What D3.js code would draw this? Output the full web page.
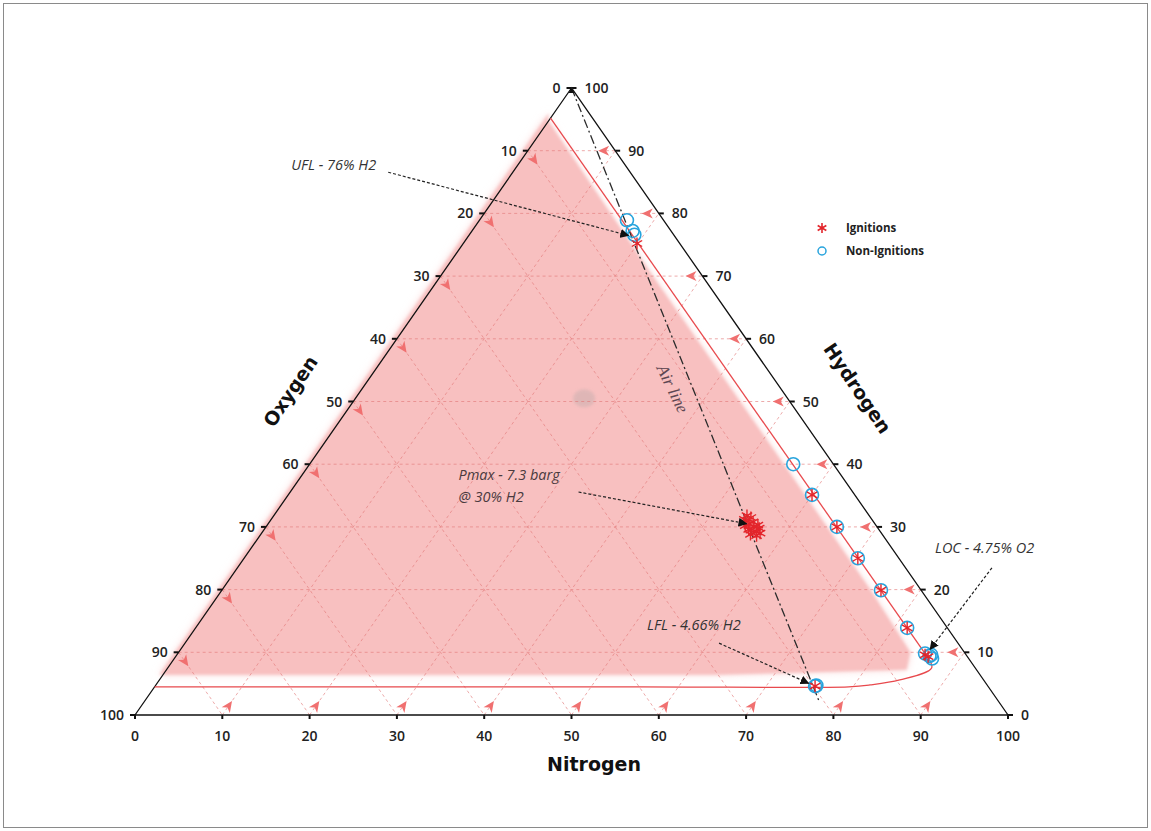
<!DOCTYPE html>
<html lang="en">
<head>
<meta charset="UTF-8">
<title>H2 / O2 / N2 flammability diagram</title>
<style>
  body { margin: 0; background: #fff; }
  .tick-label { font-family: "Open Sans", sans-serif; font-size: 14px; font-weight: 600; fill: #222; }
  .axis-title { font-family: "DejaVu Sans", sans-serif; font-size: 19px; font-weight: bold; fill: #111; }
  .note { font-family: "Open Sans", sans-serif; font-size: 14.5px; font-style: italic; fill: #333; }
  .legend { font-family: "Open Sans", sans-serif; font-size: 11.5px; font-weight: bold; fill: #222; }
</style>
</head>
<body>
<svg></svg>
<script src="https://d3js.org/d3.v7.min.js"></script>
<script>

// ticks on the three sides
const ticks = [0, 10, 20, 30, 40, 50, 60, 70, 80, 90, 100];

// ignitions, [H2 %, O2 %] (N2 is the rest)
const ignitionsH = [75.2, 35.1, 30.0, 25.0, 19.9, 13.9, 9.6, 9.3, 4.6,
                    31.8, 31.2, 30.8, 30.5, 30.2, 30.0, 29.8, 29.5, 29.2, 29.0, 28.6, 30.6, 31.5, 28.8, 29.6, 30.3];
const ignitionsO = [4.9, 4.9, 4.6, 4.7, 4.6, 4.6, 4.7, 4.5, 19.8,
                    14.0, 14.6, 13.8, 14.4, 15.0, 14.1, 13.6, 14.7, 14.2, 13.9, 14.5, 14.9, 13.7, 15.1, 14.9, 13.5];

// non-ignitions
const nonIgnitionsH = [78.9, 77.2, 76.6, 40.0, 35.1, 30.0, 25.0, 19.9, 13.9, 9.8, 9.4, 9.0, 9.6, 4.6, 4.7];
const nonIgnitionsO = [4.2, 4.4, 4.5, 4.6, 4.9, 4.6, 4.7, 4.6, 4.6, 4.6, 4.3, 4.2, 4.0, 19.8, 19.6];

// flammability envelope (red line)
const envelopeH = [95.2, 9.3, 7.5, 5.6, 4.8, 4.5, 4.5, 4.5];
const envelopeO = [4.8, 4.6, 5.0, 9.6, 13.4, 16.0, 40.0, 95.5];

// shaded flammable area
const areaH = [96.0, 94.8, 70.0, 40.0, 20.0, 10.0, 7.2, 6.4, 6.4];
const areaO = [4.6, 5.3, 5.7, 5.7, 5.8, 6.2, 8.0, 30.0, 94.0];

// air line: O2/N2 = 21/79
const airH = [100, 2];
const airO = [0, 0.21 * 98];

// annotations
const noteText = [["UFL - 76% H2"], ["Pmax - 7.3 barg", "@ 30% H2"], ["LFL - 4.66% H2"], ["LOC - 4.75% O2"]];
const noteH = [76.2, 30.3, 4.6, 9.6];
const noteO = [4.6, 14.0, 19.8, 4.6];

const width = 1151, height = 831;
const svg = d3.select('svg').attr('width', width).attr('height', height);

const xN = d3.scaleLinear().domain([0, 100]).range([135, 1008]);
const yH = d3.scaleLinear().domain([0, 100]).range([715, 88]);
const halfW = (xN(100) - xN(0)) / 2;

function pt(h, o) {
    const n = 100 - h - o;
    return [xN(n) + h / 100 * halfW, yH(h)];
}

const defs = svg.append('defs');
defs.append('filter').attr('id', 'blur').attr('x', '-10%').attr('y', '-10%').attr('width', '120%').attr('height', '120%')
    .append('feGaussianBlur').attr('stdDeviation', 1.6);
defs.append('filter').attr('id', 'blur2').attr('x', '-10%').attr('y', '-10%').attr('width', '120%').attr('height', '120%')
    .append('feGaussianBlur').attr('stdDeviation', 4);
defs.append('marker').attr('id', 'head').attr('viewBox', '0 0 10 10')
    .attr('refX', 9).attr('refY', 5).attr('markerWidth', 9).attr('markerHeight', 9)
    .attr('orient', 'auto').attr('markerUnits', 'userSpaceOnUse')
    .append('path').attr('d', 'M0,0L10,5L0,10z').attr('fill', '#111');

// frame
svg.append('rect').attr('x', 3.5).attr('y', 3.5).attr('width', 1144).attr('height', 824)
    .attr('fill', 'none').attr('stroke', '#8a8a8a');

const line = d3.line();

// shaded area
const areaPts = areaH.map((h, i) => pt(h, areaO[i]));
svg.append('path').attr('d', line(areaPts) + 'Z')
    .attr('fill', '#fbdede').attr('filter', 'url(#blur2)');
svg.append('path').attr('d', line(areaPts) + 'Z')
    .attr('fill', '#f8c0c0').attr('filter', 'url(#blur)');
// grey smudge
const sm = pt(50.5, 23.3);
svg.append('ellipse').attr('cx', sm[0]).attr('cy', sm[1]).attr('rx', 11).attr('ry', 9)
    .attr('fill', '#cfb1b1').attr('opacity', 0.6).attr('filter', 'url(#blur)');

// grid
const grid = svg.append('g').attr('stroke', '#e27a7a').attr('stroke-width', 0.8)
    .attr('stroke-dasharray', '3,3').attr('fill', 'none').attr('opacity', 0.8);
ticks.slice(1, -1).forEach(v => {
    grid.append('path').attr('d', line([pt(v, 100 - v), pt(v, 0)]));          // H const
    grid.append('path').attr('d', line([pt(100 - v, v), pt(0, v)]));          // O const
    grid.append('path').attr('d', line([pt(0, 100 - v), pt(100 - v, 0)]));    // N const
});

// small arrows at the ticks
const arrows = svg.append('g').attr('fill', '#f07070');
function arrowAt(from, to) {
    const dx = to[0] - from[0], dy = to[1] - from[1];
    const L = Math.hypot(dx, dy), ux = dx / L, uy = dy / L;
    const tip = [from[0] + ux * 17, from[1] + uy * 17];
    const base = [tip[0] - ux * 11, tip[1] - uy * 11];
    const px = -uy * 5, py = ux * 5;
    arrows.append('path').attr('d', line([tip, [base[0] + px, base[1] + py], [base[0] + ux * 3, base[1] + uy * 3], [base[0] - px, base[1] - py]]) + 'Z');
}
ticks.slice(1, -1).forEach(v => {
    arrowAt(pt(0, 100 - v), pt(100 - v, 0));   // bottom, up-right
    arrowAt(pt(100 - v, v), pt(0, v));         // left, down-right
    arrowAt(pt(v, 0), pt(v, 100 - v));         // right, leftwards
});

// triangle
svg.append('path').attr('d', line([pt(100, 0), pt(0, 100), pt(0, 0)]) + 'Z')
    .attr('fill', 'none').attr('stroke', '#111').attr('stroke-width', 1.3);

// tick marks + labels
const tk = svg.append('g').attr('stroke', '#111').attr('stroke-width', 2);
ticks.forEach(v => {
    const b = pt(0, 100 - v);
    tk.append('path').attr('d', line([b, [b[0], b[1] + 4]]));
    svg.append('text').attr('class', 'tick-label').attr('x', b[0]).attr('y', b[1] + 26)
        .attr('text-anchor', 'middle').text(v);
    const l = pt(100 - v, v);
    tk.append('path').attr('d', line([[l[0] - 5, l[1]], l]));
    svg.append('text').attr('class', 'tick-label').attr('x', l[0] - 11).attr('y', l[1] + 5)
        .attr('text-anchor', 'end').text(v);
    const r = pt(v, 0);
    tk.append('path').attr('d', line([r, [r[0] + 5, r[1]]]));
    svg.append('text').attr('class', 'tick-label').attr('x', r[0] + 13).attr('y', r[1] + 5)
        .attr('text-anchor', 'start').text(v);
});

// axis titles
svg.append('text').attr('class', 'axis-title').attr('text-anchor', 'middle')
    .attr('transform', 'translate(296,395) rotate(-56)').text('Oxygen');
svg.append('text').attr('class', 'axis-title').attr('text-anchor', 'middle')
    .attr('transform', 'translate(852,392) rotate(56)').text('Hydrogen');
svg.append('text').attr('class', 'axis-title').attr('text-anchor', 'middle')
    .attr('x', 594).attr('y', 771).text('Nitrogen');

// envelope
const envPts = envelopeH.map((h, i) => pt(h, envelopeO[i]));
svg.append('path').attr('d', line(envPts.slice(0, 2)))
    .attr('fill', 'none').attr('stroke', '#e8494d').attr('stroke-width', 1.3);
svg.append('path').attr('d', d3.line().curve(d3.curveCatmullRom)(envPts.slice(1)))
    .attr('fill', 'none').attr('stroke', '#e8494d').attr('stroke-width', 1.3);

// air line
const airPts = airH.map((h, i) => pt(h, airO[i]));
svg.append('path').attr('d', line(airPts)).attr('fill', 'none')
    .attr('stroke', '#2b2b2b').attr('stroke-width', 1.3).attr('stroke-dasharray', '9,3,2,3');
const apex = pt(100, 0);
svg.append('path').attr('d', line([[apex[0] - 3, apex[1] + 5], [apex[0] + 3, apex[1] + 5], [apex[0], apex[1]]]) + 'Z')
    .attr('fill', '#111');
const airLab = pt(51, 10.3);
svg.append('text').attr('transform', `translate(${airLab[0] - 28},${airLab[1] - 4}) rotate(64)`)
    .attr('text-anchor', 'middle').attr('font-family', '"Liberation Serif", serif').attr('font-style', 'italic')
    .attr('font-size', 17).attr('fill', '#5e4752').text('Air line');

// markers
function star(g, x, y, s) {
    const a = Math.PI / 6;
    const d = `M${x},${y - s}L${x},${y + s}` +
        `M${x - s * Math.cos(a)},${y - s * Math.sin(a)}L${x + s * Math.cos(a)},${y + s * Math.sin(a)}` +
        `M${x - s * Math.cos(a)},${y + s * Math.sin(a)}L${x + s * Math.cos(a)},${y - s * Math.sin(a)}`;
    g.append('path').attr('d', d);
}
const circ = svg.append('g').attr('fill', 'none').attr('stroke', '#28a4dd').attr('stroke-width', 1.6);
nonIgnitionsH.forEach((h, i) => {
    const p = pt(h, nonIgnitionsO[i]);
    circ.append('circle').attr('cx', p[0]).attr('cy', p[1]).attr('r', 6.5);
});
const stars = svg.append('g').attr('stroke', '#e3252b').attr('stroke-width', 1.4).attr('fill', 'none');
ignitionsH.forEach((h, i) => {
    const p = pt(h, ignitionsO[i]);
    star(stars, p[0], p[1], 6);
});

// annotations
const noteOffsets = [[-344, -67], [-295, -45], [-168, -56], [9, -102]];
const noteArrowStart = [[-247, -65], [-175, -33], [-96, -43], [66, -87]];
noteText.forEach((lines, i) => {
    const t = pt(noteH[i], noteO[i]);
    const start = [t[0] + noteArrowStart[i][0], t[1] + noteArrowStart[i][1]];
    const dx = t[0] - start[0], dy = t[1] - start[1], L = Math.hypot(dx, dy);
    const end = [t[0] - dx / L * 7, t[1] - dy / L * 7];
    svg.append('path').attr('d', line([start, end])).attr('fill', 'none')
        .attr('stroke', '#222').attr('stroke-width', 1.2).attr('stroke-dasharray', '3,2')
        .attr('marker-end', 'url(#head)');
    const txt = svg.append('text').attr('class', 'note');
    if (i === 1) txt.style('fill', '#4a3a3e');
    lines.forEach((s, j) => {
        txt.append('tspan').attr('x', t[0] + noteOffsets[i][0]).attr('y', t[1] + noteOffsets[i][1] + j * 22).text(s);
    });
});

// legend
const lg = svg.append('g');
star(lg.append('g').attr('stroke', '#e3252b').attr('stroke-width', 1.6), 822, 228, 5);
lg.append('text').attr('class', 'legend').attr('x', 846).attr('y', 232).text('Ignitions');
lg.append('circle').attr('cx', 822).attr('cy', 251).attr('r', 4)
    .attr('fill', 'none').attr('stroke', '#28a4dd').attr('stroke-width', 1.5);
lg.append('text').attr('class', 'legend').attr('x', 846).attr('y', 255).text('Non-Ignitions');

</script>
</body>
</html>
